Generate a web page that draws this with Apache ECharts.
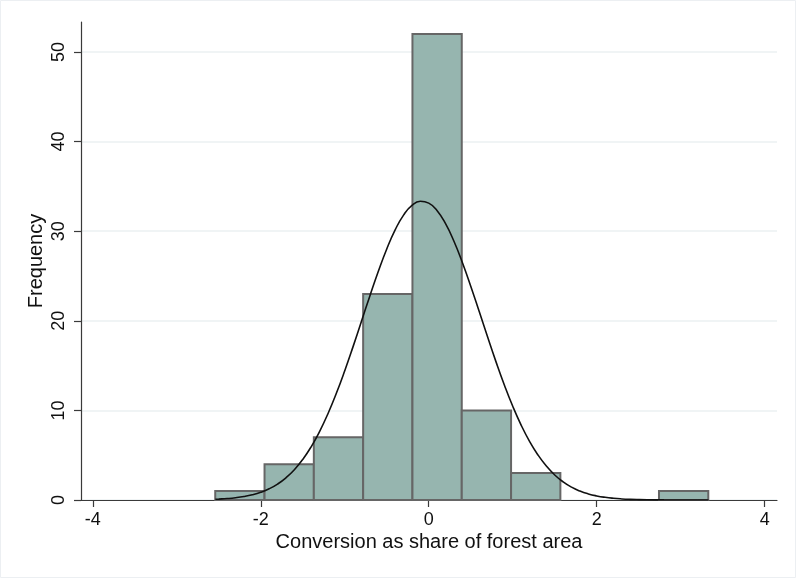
<!DOCTYPE html>
<html><head><meta charset="utf-8">
<script src="https://cdn.jsdelivr.net/npm/echarts@6/dist/echarts.min.js"></script>
<style>html,body{margin:0;padding:0;background:#fff}#c{width:796px;height:578px}</style>
</head><body><div id="c"></div>
<script>
// Histogram bins (edges) and frequencies
const binEdges = [-2.542, -1.955, -1.368, -0.781, -0.194, 0.393, 0.980, 1.567, 2.154, 2.741, 3.328];
const counts = [1, 4, 7, 23, 52, 10, 3, 0, 0, 1];

// Overlaid normal density curve (frequency scale)
const curveX = [-2.54, -2.5, -2.4, -2.3, -2.2, -2.1, -2.0, -1.9, -1.8, -1.7, -1.6, -1.5, -1.4, -1.3, -1.2, -1.1, -1.0, -0.9, -0.8, -0.7, -0.6, -0.5, -0.4, -0.3, -0.2, -0.1, 0.0, 0.1, 0.2, 0.3, 0.4, 0.5, 0.6, 0.7, 0.8, 0.9, 1.0, 1.1, 1.2, 1.3, 1.4, 1.5, 1.6, 1.7, 1.8, 1.9, 2.0, 2.1, 2.2, 2.3, 2.4, 2.5, 2.6, 2.8, 3.0, 3.2, 3.33];
const curveY = [0.08, 0.101, 0.161, 0.252, 0.388, 0.585, 0.865, 1.253, 1.779, 2.477, 3.382, 4.526, 5.937, 7.638, 9.632, 11.907, 14.431, 17.146, 19.970, 22.805, 25.530, 28.021, 30.149, 31.800, 32.885, 33.338, 33.134, 32.284, 30.838, 28.878, 26.511, 23.861, 21.053, 18.211, 15.444, 12.840, 10.465, 8.362, 6.550, 5.030, 3.787, 2.794, 2.023, 1.434, 0.998, 0.680, 0.455, 0.298, 0.191, 0.120, 0.074, 0.045, 0.027, 0.009, 0.003, 0.001, 0.0005];

// Axis ticks
const xTicks = [-4, -2, 0, 2, 4];
const yTicks = [0, 10, 20, 30, 40, 50];
const xTitle = 'Conversion as share of forest area';
const yTitle = 'Frequency';

const FONT = 'Liberation Sans, Arial, Helvetica, sans-serif';
const AXIS_COLOR = '#3a3a3a';

const barData = [];
counts.forEach((c, i) => { if (c > 0) barData.push([binEdges[i], binEdges[i + 1], c]); });
const lineData = curveX.map((x, i) => [x, curveY[i]]);

const chart = echarts.init(document.getElementById('c'), null, {renderer: 'canvas'});
chart.setOption({
  animation: false,
  backgroundColor: '#ffffff',
  graphic: [{
    type: 'rect', z: -10, silent: true,
    shape: {x: 0.5, y: 0.5, width: 795, height: 577},
    style: {fill: 'none', stroke: '#eceff2', lineWidth: 1}
  }],
  grid: {left: 81, right: 19, top: 22, bottom: 78, containLabel: false},
  xAxis: {
    type: 'value', min: -4.14, max: 4.146,
    axisLine: {show: true, onZero: false, lineStyle: {color: AXIS_COLOR, width: 1.2}},
    axisTick: {show: true, length: 7, customValues: xTicks, lineStyle: {color: AXIS_COLOR, width: 1.2}},
    axisLabel: {customValues: xTicks, fontSize: 18, color: '#111', margin: 11, fontFamily: FONT},
    splitLine: {show: false},
    name: xTitle, nameLocation: 'middle', nameGap: 32, nameMoveOverlap: false,
    nameTextStyle: {fontSize: 20, color: '#111', fontFamily: FONT}
  },
  yAxis: {
    type: 'value', min: 0, max: 53.35,
    axisLine: {show: true, onZero: false, lineStyle: {color: AXIS_COLOR, width: 1.2}},
    axisTick: {show: true, length: 7, customValues: yTicks, lineStyle: {color: AXIS_COLOR, width: 1.2}},
    axisLabel: {customValues: yTicks, rotate: 90, fontSize: 18, color: '#111', margin: 13, fontFamily: FONT},
    splitLine: {show: true, lineStyle: {color: '#ebf0f2', width: 1.5}},
    name: yTitle, nameLocation: 'middle', nameRotate: 90, nameGap: 35, nameMoveOverlap: false,
    nameTextStyle: {fontSize: 20, color: '#111', fontFamily: FONT}
  },
  series: [{
    type: 'custom',
    data: barData,
    encode: {x: [0, 1], y: 2},
    renderItem: function (params, api) {
      const p0 = api.coord([api.value(0), api.value(2)]);
      const p1 = api.coord([api.value(1), 0]);
      return {
        type: 'rect',
        shape: {x: p0[0], y: p0[1], width: p1[0] - p0[0], height: p1[1] - p0[1]},
        style: {fill: '#96b5af', stroke: '#666666', lineWidth: 2}
      };
    },
    z: 2
  }, {
    type: 'line',
    data: lineData,
    showSymbol: false,
    smooth: true,
    lineStyle: {color: '#111111', width: 1.6},
    z: 5
  }]
});
</script>
</body></html>
